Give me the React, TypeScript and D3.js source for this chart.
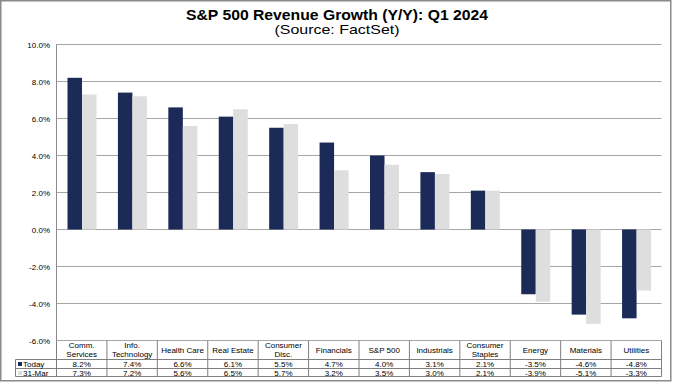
import React from "react";
import { scaleBand, scaleLinear } from "d3";

const categories = [
  ["Comm.", "Services"],
  ["Info.", "Technology"],
  ["Health Care"],
  ["Real Estate"],
  ["Consumer", "Disc."],
  ["Financials"],
  ["S&P 500"],
  ["Industrials"],
  ["Consumer", "Staples"],
  ["Energy"],
  ["Materials"],
  ["Utilities"],
];
const today = [8.2, 7.4, 6.6, 6.1, 5.5, 4.7, 4.0, 3.1, 2.1, -3.5, -4.6, -4.8];
const mar31 = [7.3, 7.2, 5.6, 6.5, 5.7, 3.2, 3.5, 3.0, 2.1, -3.9, -5.1, -3.3];
const yTicks = [-6, -4, -2, 0, 2, 4, 6, 8, 10];
const seriesNames = ["Today", "31-Mar"];

const W = 673;
const H = 384;
const navy = "#1b2a56";
const grey = "#dedede";
const font = "Liberation Sans, Arial, sans-serif";

export default function App() {
  const keys = categories.map((c, i) => String(i));
  const x = scaleBand().domain(keys).range([56.5, 661.5]).padding(0);
  const inner = scaleBand().domain(seriesNames).range([11, 40]).padding(0);
  const y = scaleLinear().domain([-6, 10]).range([340.5, 44.5]);
  const series = [today, mar31];
  const colors = [navy, grey];

  // data table rows
  const rowTop = 340.5;
  const hdrBottom = 359.5;
  const row1Bottom = 368.5;
  const row2Bottom = 376.5;
  const legendLeft = 15.5;

  return (
    <svg
      width={W}
      height={H}
      style={{ position: "fixed", left: 0, top: 0 }}
      fontFamily={font}
    >
      <rect x={0} y={0} width={W} height={H} fill="#fff" />
      <rect x={0.75} y={0.75} width={670} height={380} fill="none" stroke="#8a8a8a" strokeWidth={1.5} />
      {/* the source title is stretched wider than its height */}
      <text x={337} y={20} textAnchor="middle" fontSize={14} fontWeight="bold" fill="#000"
        textLength={302} lengthAdjust="spacingAndGlyphs">
        S&amp;P 500 Revenue Growth (Y/Y):  Q1 2024
      </text>
      <text x={337} y={33.5} textAnchor="middle" fontSize={13} fill="#000"
        textLength={125} lengthAdjust="spacingAndGlyphs">
        (Source: FactSet)
      </text>

      {/* grid */}
      {yTicks.map((t) => (
        <g key={t}>
          <line x1={56.5} x2={661.5} y1={y(t)} y2={y(t)} stroke="#a6a6a6" strokeWidth={1} />
          <text x={50} y={y(t) + 3} textAnchor="end" fontSize={8} fill="#000">
            {t.toFixed(1)}%
          </text>
        </g>
      ))}
      <line x1={56.5} x2={56.5} y1={44.5} y2={rowTop} stroke="#8a8a8a" />

      {/* bars */}
      {series.map((s, si) =>
        s.map((v, i) => (
          <rect
            key={si + "-" + i}
            x={(x(String(i)) as number) + (inner(seriesNames[si]) as number)}
            y={Math.min(y(v), y(0))}
            width={inner.bandwidth()}
            height={Math.abs(y(v) - y(0))}
            fill={colors[si]}
          />
        ))
      )}

      {/* table */}
      <g stroke="#7f7f7f" strokeWidth={1} fill="none">
        <line x1={legendLeft} x2={661.5} y1={hdrBottom} y2={hdrBottom} />
        <line x1={legendLeft} x2={661.5} y1={row1Bottom} y2={row1Bottom} />
        <line x1={legendLeft} x2={661.5} y1={row2Bottom} y2={row2Bottom} />
        <line x1={legendLeft} x2={legendLeft} y1={hdrBottom} y2={row2Bottom} />
        {keys.map((k) => (
          <line key={k} x1={x(k)} x2={x(k)} y1={rowTop} y2={row2Bottom} />
        ))}
        <line x1={661.5} x2={661.5} y1={rowTop} y2={row2Bottom} />
      </g>
      {categories.map((c, i) => {
        const cx = (x(String(i)) as number) + x.bandwidth() / 2;
        return (
          <g key={i} fontSize={8} fill="#000" textAnchor="middle">
            {c.length === 1 ? (
              <text x={cx} y={352.5}>{c[0]}</text>
            ) : (
              <>
                <text x={cx} y={348}>{c[0]}</text>
                <text x={cx} y={357}>{c[1]}</text>
              </>
            )}
            <text x={cx} y={367}>{today[i].toFixed(1)}%</text>
            <text x={cx} y={375.5}>{mar31[i].toFixed(1)}%</text>
          </g>
        );
      })}
      {seriesNames.map((n, si) => {
        const top = si === 0 ? hdrBottom : row1Bottom;
        return (
          <g key={n}>
            <rect x={18} y={top + 2.5} width={4} height={4} fill={colors[si]} />
            <text x={23} y={top + 7.5} fontSize={8} fill="#000">{n}</text>
          </g>
        );
      })}
    </svg>
  );
}
